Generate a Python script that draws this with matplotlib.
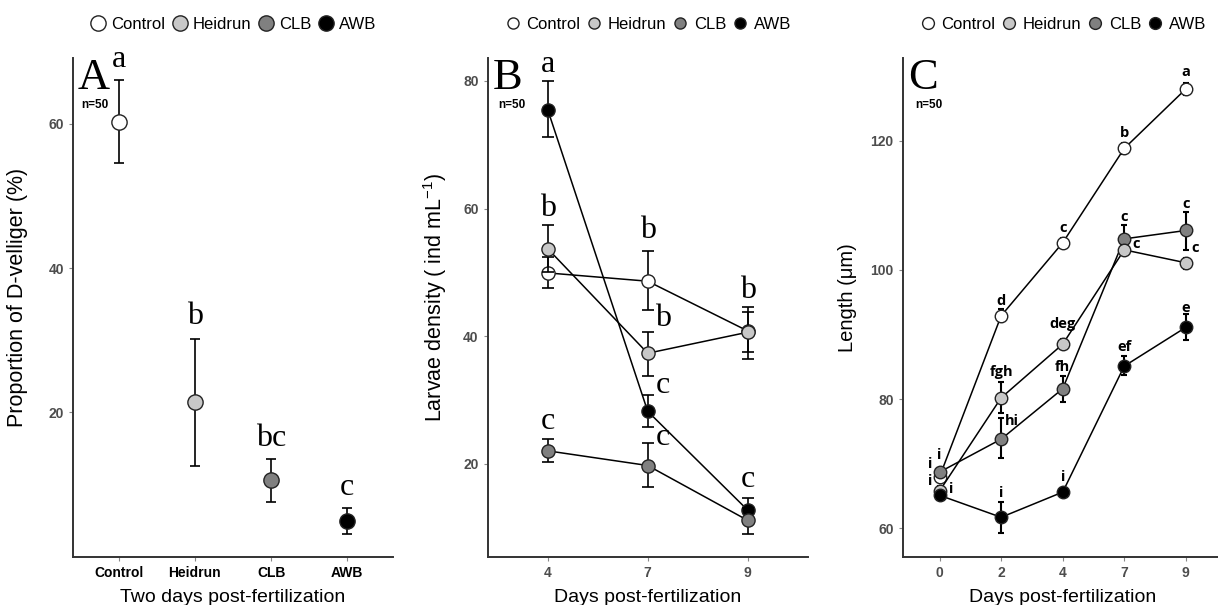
import matplotlib.pyplot as plt
from matplotlib.lines import Line2D

plt.rcParams['font.family'] = 'Liberation Sans'
plt.rcParams['mathtext.default'] = 'regular'

groups = ['Control', 'Heidrun', 'CLB', 'AWB']
fills = {'Control': 'white', 'Heidrun': '#c8c8c8', 'CLB': '#808080', 'AWB': 'black'}

# --- Panel A: proportion of D-velliger, two days post-fertilization ---
a_mean = [60.2, 21.4, 10.6, 4.9]
a_upper = [66.0, 30.1, 13.6, 6.7]
a_lower = [54.5, 12.6, 7.6, 3.1]
a_letters = ['a', 'b', 'bc', 'c']
a_letter_y = [67.8, 32.2, 15.3, 8.6]

# --- Panel B: larvae density ---
b_days = ['4', '7', '9']
b_control = [49.9, 48.6, 40.8]
b_control_up = [52.4, 53.3, 44.6]
b_control_lo = [47.6, 44.1, 37.5]
b_heidrun = [53.7, 37.3, 40.6]
b_heidrun_up = [57.4, 40.7, 43.8]
b_heidrun_lo = [50.0, 33.7, 36.4]
b_clb = [22.0, 19.7, 11.1]
b_clb_up = [23.8, 23.2, 13.0]
b_clb_lo = [20.3, 16.4, 9.0]
b_awb = [75.5, 28.2, 12.7]
b_awb_up = [80.0, 30.8, 14.6]
b_awb_lo = [71.2, 25.8, 10.8]
# significance letters (x on the category scale, baseline value)
b_letters = ['a', 'b', 'b', 'b', 'b', 'c', 'c', 'c', 'c']
b_letter_x = [1, 1, 2, 2.15, 3, 1, 2.15, 2.15, 3]
b_letter_y = [81.4, 58.8, 55.4, 41.6, 46.0, 25.5, 31.0, 22.9, 16.4]

# --- Panel C: shell length ---
c_days = ['0', '2', '4', '7', '9']
c_control = [68.0, 92.9, 104.2, 118.8, 128.0]
c_control_up = [68.8, 93.9, 105.0, 119.7, 129.0]
c_control_lo = [67.2, 91.9, 103.4, 117.9, 127.0]
c_heidrun = [65.8, 80.2, 88.5, 103.1, 101.1]
c_heidrun_up = [66.5, 82.6, 89.3, 103.9, 101.9]
c_heidrun_lo = [65.1, 77.9, 87.7, 102.3, 100.2]
c_clb = [68.7, 73.8, 81.6, 104.8, 106.1]
c_clb_up = [69.3, 77.0, 83.6, 106.9, 109.0]
c_clb_lo = [68.1, 70.9, 79.5, 102.7, 103.1]
c_awb = [65.1, 61.7, 65.6, 85.1, 91.1]
c_awb_up = [65.7, 64.0, 66.2, 86.6, 93.1]
c_awb_lo = [64.5, 59.2, 65.0, 83.7, 89.2]
c_letters = ['a', 'b', 'c', 'd', 'c', 'c', 'c', 'c', 'deg', 'fgh', 'fh', 'hi',
             'ef', 'e', 'i', 'i', 'i', 'i', 'i', 'i']
c_letter_x = [5, 4, 3, 2, 4, 4.2, 5, 5.15, 3, 2, 3, 2.17,
              4, 5, 3, 2, 1, 0.84, 0.84, 1.18]
c_letter_y = [130.0, 120.6, 105.9, 94.6, 107.5, 103.4, 109.6, 102.8, 91.0, 83.5, 84.3, 76.0,
              87.4, 93.5, 67.3, 64.9, 70.7, 69.3, 66.7, 65.4]

fig = plt.figure(figsize=(12.18, 6.05), dpi=100)
W, H = 1218.0, 605.0
bottom = 1 - 556.7 / H
height = (556.7 - 58) / H
axA = fig.add_axes([73 / W, bottom, 320 / W, height])
axB = fig.add_axes([487.7 / W, bottom, 320 / W, height])
axC = fig.add_axes([902.7 / W, bottom, 320 / W, height])

AX_COL = '#333333'
TICK_COL = '#4d4d4d'


def style(ax, xlabels, xlab_color):
    for s in ['top', 'right']:
        ax.spines[s].set_visible(False)
    for s in ['left', 'bottom']:
        ax.spines[s].set_color(AX_COL)
        ax.spines[s].set_linewidth(1.4)
    ax.tick_params(length=3, width=0.8, color='#888888', labelsize=10)
    ax.set_xticks(range(1, len(xlabels) + 1))
    ax.set_xticklabels(xlabels, fontweight='bold', color=xlab_color)
    for t in ax.get_yticklabels():
        t.set_fontweight('bold')
        t.set_color(TICK_COL)
    ax.yaxis.label.set_va('center')
    ax.xaxis.label.set_va('center')


def add_legend(ax, msize):
    handles = [Line2D([], [], marker='o', linestyle='none', markersize=msize,
                      markerfacecolor=fills[g], markeredgecolor='#222222',
                      markeredgewidth=1) for g in groups]
    ax.legend(handles, groups, loc='center', bbox_to_anchor=(0.5, 1.068), ncol=4,
              frameon=False, fontsize=12, handletextpad=0.3, columnspacing=0.35,
              handlelength=1.0, borderaxespad=0, borderpad=0)


def panel_tag(ax, letter, nx):
    ax.text(0.016, 1.0, letter, transform=ax.transAxes, ha='left', va='top',
            family='Liberation Serif', fontsize=32)
    ax.text(nx, 0.905, 'n=50', transform=ax.transAxes, ha='center', va='center',
            fontsize=8.5, fontweight='bold')


def draw_series(ax, x, mean, up, lo, color, z, msize, cap, line=True, elw=1.2):
    yerr = [[m - l for m, l in zip(mean, lo)], [u - m for m, u in zip(mean, up)]]
    ax.errorbar(x, mean, yerr=yerr, fmt='none', ecolor='black', elinewidth=elw,
                capsize=cap, capthick=elw, zorder=z)
    if line:
        ax.plot(x, mean, '-', color='black', lw=1.1, zorder=z)
    ax.plot(x, mean, 'o', markersize=msize, markerfacecolor=color,
            markeredgecolor='#222222', markeredgewidth=1, zorder=z + 0.5)


# Panel A
xa = list(range(1, 5))
for i, g in enumerate(groups):
    draw_series(axA, [xa[i]], [a_mean[i]], [a_upper[i]], [a_lower[i]], fills[g],
                3 + i, 11, 3.3, line=False)
for i, t in enumerate(a_letters):
    axA.text(xa[i], a_letter_y[i], t, ha='center', va='baseline',
             family='Liberation Serif', fontsize=23)
axA.set_xlim(0.4, 4.6)
axA.set_ylim(0, 69.1)
axA.set_yticks([20, 40, 60])
style(axA, groups, 'black')
axA.set_ylabel('Proportion of D-velliger (%)', fontsize=15.5)
axA.set_xlabel('Two days post-fertilization', fontsize=14)
axA.yaxis.set_label_coords(-0.172, 0.52)
axA.xaxis.set_label_coords(0.5, -0.081)
add_legend(axA, 11)
panel_tag(axA, 'A', 0.069)

# Panel B
xb = list(range(1, 4))
b_series = [('Control', b_control, b_control_up, b_control_lo),
            ('Heidrun', b_heidrun, b_heidrun_up, b_heidrun_lo),
            ('AWB', b_awb, b_awb_up, b_awb_lo),
            ('CLB', b_clb, b_clb_up, b_clb_lo)]
for k, (g, m, u, l) in enumerate(b_series):
    draw_series(axB, xb, m, u, l, fills[g], 3 + k, 9.5, 4.2)
for t, x, y in zip(b_letters, b_letter_x, b_letter_y):
    axB.text(x, y, t, ha='center', va='baseline', family='Liberation Serif', fontsize=23)
axB.set_xlim(0.4, 3.6)
axB.set_ylim(5.4, 83.6)
axB.set_yticks([20, 40, 60, 80])
style(axB, b_days, TICK_COL)
axB.set_ylabel('Larvae density ( ind mL$^{-1}$)', fontsize=15.5)
axB.set_xlabel('Days post-fertilization', fontsize=14)
axB.yaxis.set_label_coords(-0.165, 0.52)
axB.xaxis.set_label_coords(0.5, -0.081)
add_legend(axB, 8)
panel_tag(axB, 'B', 0.076)

# Panel C
xc = list(range(1, 6))
c_series = [('Control', c_control, c_control_up, c_control_lo),
            ('CLB', c_clb, c_clb_up, c_clb_lo),
            ('Heidrun', c_heidrun, c_heidrun_up, c_heidrun_lo),
            ('AWB', c_awb, c_awb_up, c_awb_lo)]
for k, (g, m, u, l) in enumerate(c_series):
    draw_series(axC, xc, m, u, l, fills[g], 3 + k, 9, 2.2, elw=1.5)
for t, x, y in zip(c_letters, c_letter_x, c_letter_y):
    axC.text(x, y, t, ha='center', va='baseline', family='Open Sans',
             fontweight='bold', fontsize=10.5, zorder=10)
axC.set_xlim(0.4, 5.6)
axC.set_ylim(55.6, 132.8)
axC.set_yticks([60, 80, 100, 120])
style(axC, c_days, TICK_COL)
axC.set_ylabel('Length (\u03bcm)', fontsize=14.5)
axC.set_xlabel('Days post-fertilization', fontsize=14)
axC.yaxis.set_label_coords(-0.171, 0.52)
axC.xaxis.set_label_coords(0.5, -0.081)
add_legend(axC, 8.5)
panel_tag(axC, 'C', 0.082)

fig.savefig('out.png', dpi=100)
